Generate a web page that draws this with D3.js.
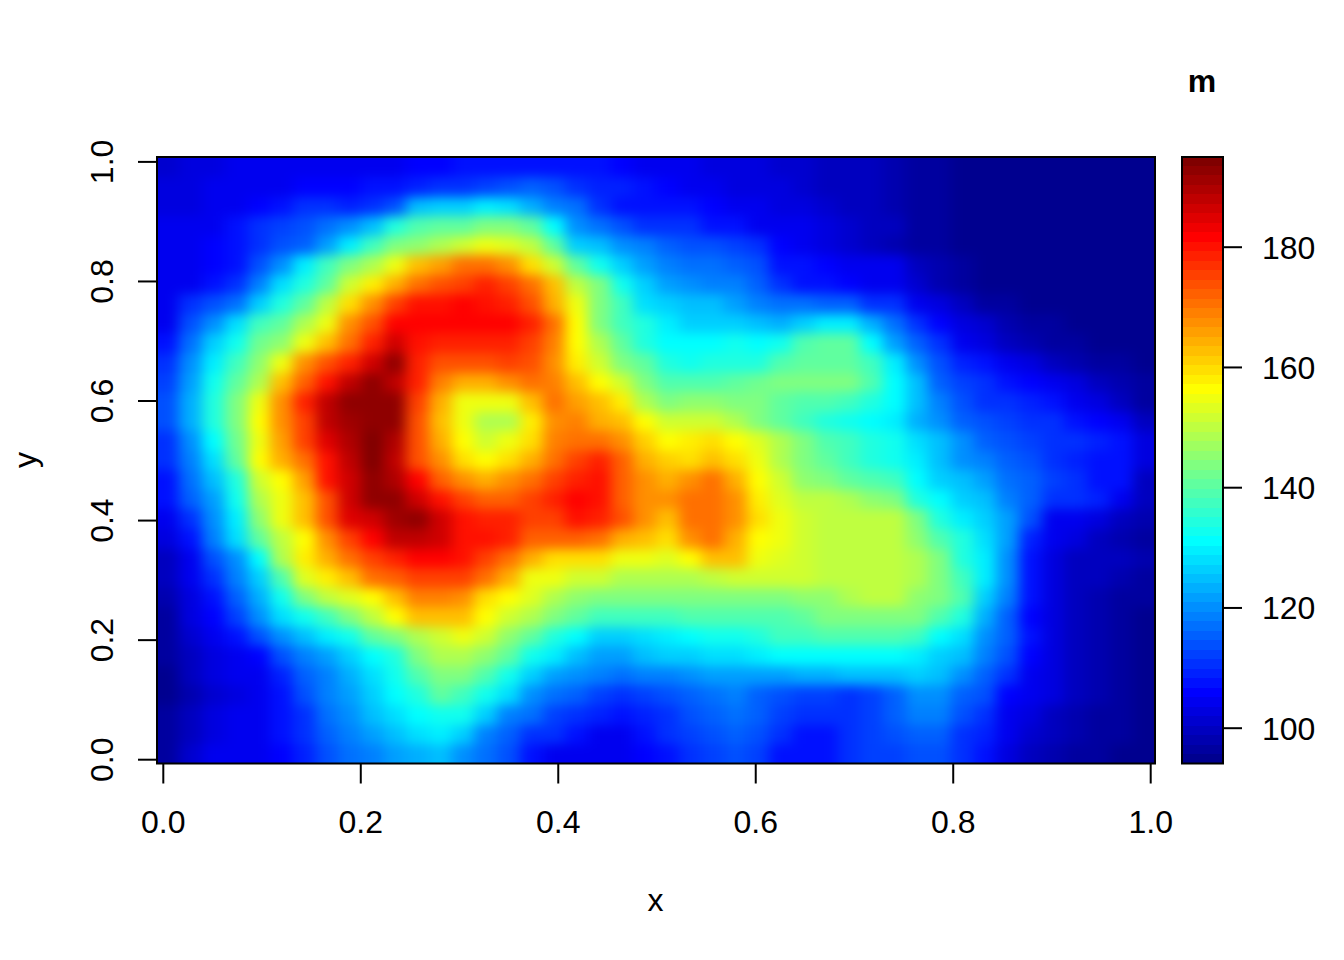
<!DOCTYPE html>
<html>
<head>
<meta charset="utf-8">
<script src="https://cdn.jsdelivr.net/npm/d3@7"></script>
<style>
html,body{margin:0;padding:0;background:#fff;}
svg{display:block;}
text{font-family:"Liberation Sans",Arial,sans-serif;font-size:32px;fill:#000;}
</style>
</head>
<body>
<svg id="chart" width="1344" height="960"></svg>
<script>
const xTicks = [0, 0.2, 0.4, 0.6, 0.8, 1];
const yTicks = [0, 0.2, 0.4, 0.6, 0.8, 1];
const legendTicks = [100, 120, 140, 160, 180];
const zRange = [94, 195];
const xRange = [-0.0061, 1.0051];
const yRange = [-0.0075, 1.0067];
const xLabel = "x", yLabel = "y", legendTitle = "m";
const levels = 64;

// rows run from the top of the picture (y near 1) to the bottom (y near 0)
const m = [
[101,102,103,104,104,104,105,105,105,104,104,106,106,107,108,108,108,107,107,107,106,105,105,104,103,102,102,101,101,100,100,99,98,97,96,95,94,94,94,94,94,94,94,94],
[103,103,104,105,105,105,106,106,106,107,108,109,110,111,112,113,116,114,110,109,109,108,106,105,105,103,103,102,101,100,100,99,98,97,96,95,94,94,94,94,94,94,94,94],
[103,103,104,105,106,108,110,110,109,110,113,125,126,126,129,128,123,119,117,111,108,107,107,107,106,105,104,103,102,101,100,99,98,97,96,95,94,94,94,94,94,94,94,94],
[105,105,105,108,110,112,113,117,120,125,134,139,140,141,143,144,141,131,120,117,113,110,110,110,108,107,105,104,105,103,101,100,99,97,96,95,94,94,94,94,94,94,94,94],
[105,105,106,107,110,113,115,121,130,137,144,146,149,152,154,153,150,140,127,124,120,118,115,114,113,112,110,106,104,102,101,100,98,97,96,95,94,94,94,94,94,94,94,94],
[105,105,106,108,113,120,130,137,144,149,155,163,166,170,171,168,160,152,141,133,126,121,118,117,117,116,114,108,107,106,104,104,104,100,98,96,95,95,94,94,94,94,94,94],
[105,105,107,110,118,128,135,141,151,158,165,171,174,176,178,176,171,163,150,144,133,126,122,120,119,118,115,111,108,108,106,105,104,101,98,96,95,95,94,94,94,94,94,94],
[105,110,113,117,127,135,141,150,159,167,175,180,180,181,180,179,174,165,154,143,137,128,126,124,124,122,119,117,117,116,115,111,110,105,103,100,97,96,95,94,94,94,94,94],
[105,113,120,128,137,141,149,155,167,174,181,182,182,182,182,181,179,170,157,144,137,134,130,127,127,127,124,123,127,129,129,123,117,111,106,103,101,98,97,96,95,94,94,94],
[108,117,127,133,142,146,155,162,170,178,186,180,178,178,179,178,176,169,157,149,141,135,131,131,131,132,131,132,139,140,140,131,122,116,110,105,103,100,98,97,96,95,95,94],
[110,120,130,137,146,154,167,174,179,186,192,178,174,174,174,175,174,167,158,151,144,141,135,133,134,135,135,139,141,141,141,137,130,120,114,109,107,105,103,100,98,97,96,95],
[112,122,132,141,149,162,172,180,188,192,188,178,169,165,165,167,170,169,163,156,151,144,139,139,139,141,142,143,143,143,143,139,131,124,116,112,110,108,106,104,102,99,98,96],
[113,123,134,143,154,167,178,188,192,193,193,176,164,155,154,155,163,170,166,162,158,149,144,146,146,143,144,141,139,139,137,134,131,124,118,113,111,110,109,107,105,102,100,97],
[113,123,134,143,157,168,176,188,191,193,192,174,162,154,148,149,158,167,169,165,162,157,151,151,151,149,144,141,137,135,132,131,129,123,120,116,113,112,111,110,108,106,104,100],
[111,120,131,142,155,166,176,184,190,195,190,174,164,157,152,154,160,169,171,170,168,161,157,158,159,157,153,148,143,139,137,135,132,128,124,120,115,113,112,111,110,109,108,103],
[110,119,128,141,157,165,170,180,188,195,188,174,167,160,157,159,165,170,176,178,172,165,161,160,162,160,155,149,144,140,137,135,133,129,125,120,118,116,114,111,109,108,107,102],
[108,117,125,135,151,157,166,180,187,193,190,182,172,167,165,167,170,175,179,180,172,167,165,168,170,164,157,152,146,144,141,139,137,131,127,124,122,117,115,112,110,108,107,100],
[107,115,122,132,148,155,162,174,186,192,193,187,180,176,172,172,175,178,181,180,172,168,167,170,170,167,158,153,150,150,149,146,144,135,131,127,124,119,115,111,110,109,105,99],
[105,110,120,129,146,154,163,174,184,186,191,192,186,180,179,178,176,176,180,178,174,167,163,170,170,168,159,154,151,150,150,150,150,143,135,130,127,122,113,105,104,102,100,98],
[103,108,119,128,141,150,157,168,176,182,188,188,187,180,180,178,172,172,172,170,165,162,160,168,170,165,157,155,151,150,150,150,150,146,139,134,128,122,109,104,102,100,98,97],
[100,105,113,120,131,149,158,165,171,175,178,181,182,180,176,171,165,160,159,159,154,154,153,157,162,162,155,153,151,150,150,150,150,148,143,135,130,120,108,103,100,100,99,98],
[99,104,110,118,127,139,153,158,162,171,172,175,175,175,170,165,155,154,152,151,149,149,149,149,150,152,151,151,151,150,150,150,150,148,144,137,129,120,108,103,100,99,98,97],
[98,103,108,115,123,132,144,150,153,157,163,169,169,168,160,157,153,149,146,144,144,144,144,144,144,144,144,144,146,146,149,150,150,146,144,139,127,118,107,102,100,98,97,96],
[97,102,106,112,120,128,132,137,143,150,157,162,163,162,157,151,148,143,141,137,137,137,137,139,139,139,139,139,141,143,143,144,144,143,139,134,123,116,106,102,100,98,96,95],
[96,101,105,108,113,120,125,129,132,141,144,149,152,154,151,146,141,135,131,127,127,128,129,131,132,133,135,137,137,139,139,139,139,137,131,128,120,115,108,103,100,98,96,95],
[96,100,103,105,106,113,118,122,127,131,135,144,149,149,146,141,133,129,125,122,122,124,126,127,128,128,129,131,131,131,131,131,131,130,127,124,119,113,106,102,100,98,96,95],
[95,99,102,104,105,109,116,119,123,128,132,139,144,143,139,132,127,122,120,118,117,118,119,120,122,122,122,122,123,123,125,125,125,126,124,120,116,111,105,102,100,98,96,95],
[95,98,101,103,105,107,113,119,122,127,131,135,141,137,132,128,120,117,115,112,111,112,114,115,117,118,116,114,112,112,111,112,115,120,120,115,113,106,104,102,100,98,96,95],
[96,99,102,104,105,108,111,117,120,124,128,131,133,132,127,119,117,112,110,109,108,109,111,113,115,117,115,112,110,110,111,112,115,118,118,114,111,105,102,100,98,97,96,95],
[96,100,102,105,105,107,110,115,118,122,125,128,129,126,119,115,111,110,108,105,105,107,110,112,113,115,113,110,108,108,110,112,113,115,115,111,109,104,101,100,98,97,96,95],
[97,101,104,105,105,106,109,113,117,119,122,123,125,120,117,113,108,105,105,104,104,106,108,110,112,114,112,107,107,108,110,112,112,113,113,110,107,103,100,98,97,96,95,94]
];

// jet colour ramp, quantised to the same number of steps as the legend
function jet(k) {
  const t = (k + 1) / levels * 4; // 0..4
  const c = v => Math.round(255 * Math.max(0, Math.min(1, v)));
  return d3.rgb(c(Math.min(t - 1.5, 4.5 - t)), c(Math.min(t - 0.5, 3.5 - t)), c(Math.min(t + 0.5, 2.5 - t))).formatHex();
}
const palette = d3.range(levels).map(jet);
const colour = d3.scaleQuantize().domain(zRange).range(palette);

const svg = d3.select("#chart");
const x = d3.scaleLinear().domain([0, 1]).range([162.8, 1150.2]);
const y = d3.scaleLinear().domain([0, 1]).range([759.2, 161.4]);
const nCols = m[0].length, nRows = m.length;
const colX = d3.scaleLinear().domain([0, nCols]).range(xRange);
const rowY = d3.scaleLinear().domain([0, nRows]).range([yRange[1], yRange[0]]);

const defs = svg.append("defs");
defs.append("clipPath").attr("id", "plotClip").append("rect")
  .attr("x", 157).attr("y", 157).attr("width", 998).attr("height", 606.5);
const soften = defs.append("filter").attr("id", "soften").attr("filterUnits", "userSpaceOnUse")
  .attr("x", 100).attr("y", 100).attr("width", 1112).attr("height", 720)
  .attr("color-interpolation-filters", "sRGB");
soften.append("feGaussianBlur").attr("stdDeviation", "7 6");

// heat map cells; border cells run on under the clip so the softening stays even at the frame
const pad = 40;
const cells = svg.append("g").attr("clip-path", "url(#plotClip)")
  .append("g").attr("filter", "url(#soften)").attr("shape-rendering", "crispEdges");
m.forEach((row, j) => {
  const top = Math.round(y(rowY(j))) - (j === 0 ? pad : 0);
  const bottom = Math.round(y(rowY(j + 1))) + (j === nRows - 1 ? pad : 0);
  cells.selectAll(null).data(row).enter().append("rect")
    .attr("x", (d, i) => Math.round(x(colX(i))) - (i === 0 ? pad : 0))
    .attr("width", (d, i) => Math.round(x(colX(i + 1))) - Math.round(x(colX(i))) + (i === 0 || i === nCols - 1 ? pad : 0))
    .attr("y", top)
    .attr("height", bottom - top)
    .attr("fill", d => colour(d));
});

function styleAxis(g) {
  g.select(".domain").remove();
  g.selectAll("line").attr("stroke", "#000").attr("stroke-width", 2);
  g.selectAll("text").attr("fill", "#000").style("font-size", "32px")
    .style("font-family", '"Liberation Sans",Arial,sans-serif');
}

// x axis
const gx = svg.append("g").attr("transform", "translate(0,763.5)")
  .call(d3.axisBottom(x).tickValues(xTicks).tickFormat(d3.format(".1f")).tickSize(20).tickPadding(20))
  .call(styleAxis);
gx.selectAll("text").attr("y", 0).attr("dy", null).attr("dominant-baseline", null)
  .attr("transform", "translate(0,69.5)");

// y axis
const gy = svg.append("g").attr("transform", "translate(157,0)")
  .call(d3.axisLeft(y).tickValues(yTicks).tickFormat(d3.format(".1f")).tickSize(19))
  .call(styleAxis);
gy.selectAll("text").attr("x", null).attr("dy", null)
  .attr("text-anchor", "middle")
  .attr("transform", "translate(-44,0) rotate(-90)");

// plot frame
svg.append("rect").attr("x", 157).attr("y", 157).attr("width", 998).attr("height", 606.5)
  .attr("fill", "none").attr("stroke", "#000").attr("stroke-width", 2);

// axis titles
svg.append("text").attr("x", 655.5).attr("y", 911).attr("text-anchor", "middle").text(xLabel);
svg.append("text").attr("text-anchor", "middle")
  .attr("transform", "translate(36,460) rotate(-90)").text(yLabel);

// legend
const legendY = d3.scaleLinear().domain([100, 180]).range([727.7, 246.7]);
const legendBand = d3.scaleLinear().domain(zRange).range([legendY(zRange[0]), legendY(zRange[1])]);
const legendStep = (zRange[1] - zRange[0]) / levels;
svg.append("g").attr("shape-rendering", "crispEdges").selectAll("rect").data(palette).enter().append("rect")
  .attr("x", 1182).attr("width", 41)
  .attr("y", (d, i) => Math.round(legendBand(zRange[0] + (i + 1) * legendStep)))
  .attr("height", (d, i) => Math.round(legendBand(zRange[0] + i * legendStep)) - Math.round(legendBand(zRange[0] + (i + 1) * legendStep)))
  .attr("fill", d => d);
svg.append("rect").attr("x", 1182).attr("y", 157).attr("width", 41).attr("height", 606.5)
  .attr("fill", "none").attr("stroke", "#000").attr("stroke-width", 2);
const gl = svg.append("g").attr("transform", "translate(1223,0)")
  .call(d3.axisRight(legendY).tickValues(legendTicks).tickSize(19).tickPadding(20))
  .call(styleAxis);
gl.selectAll("text").attr("dy", "0.36em");

svg.append("text").attr("x", 1202).attr("y", 92).attr("text-anchor", "middle")
  .style("font-weight", "bold").text(legendTitle);
</script>
</body>
</html>
